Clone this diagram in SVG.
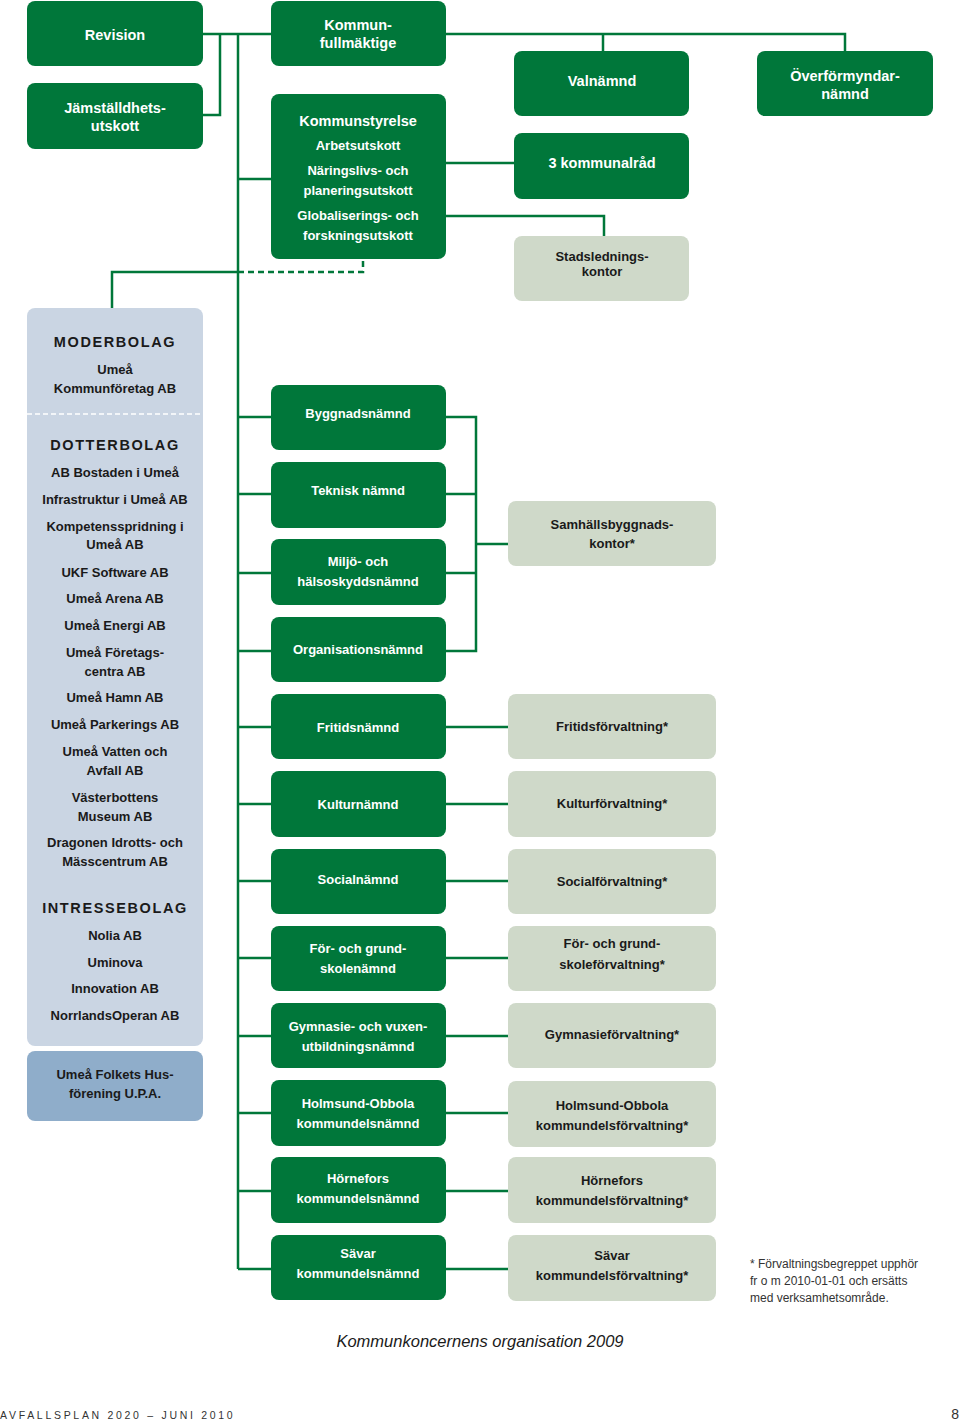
<svg xmlns="http://www.w3.org/2000/svg" width="960" height="1422" viewBox="0 0 960 1422">
<style>
.g{fill:#00773a}
.p{fill:#cfd9c9}
.b{fill:#cad5e3}
.bd{fill:#8fadca}
text{font-family:"Liberation Sans",Arial,sans-serif;font-weight:bold;text-anchor:middle}
.w{fill:#ffffff;font-size:13px}
.wt{fill:#ffffff;font-size:14.5px}
.k{fill:#1a1a1a;font-size:13px}
.h{fill:#1a1a1a;font-size:14.5px;letter-spacing:1.6px}
.ln{stroke:#00773a;stroke-width:2.5;fill:none}
.dash{stroke:#00773a;stroke-width:2.5;fill:none;stroke-dasharray:6 4}
</style>
<rect width="960" height="1422" fill="#ffffff"/>
<g id="connectors">
<path class="ln" d="M203 34H271M220 34V115H203M238 34V1269M238 179H271"/>
<path class="ln" d="M446 34H845V51M603 34V51M446 163H514M446 216H604V236"/>
<path class="ln" d="M112 308V272H238"/>
<path class="dash" d="M238 272H363V259"/>
<path class="ln" d="M238 417H271M238 494H271M238 573H271M238 651H271M238 727H271M238 804H271M238 881H271M238 958H271M238 1036H271M238 1113H271M238 1191H271M238 1269H271"/>
<path class="ln" d="M446 417H476V651H446M446 494H476M446 573H476M476 544H508"/>
<path class="ln" d="M446 727H508M446 804H508M446 881H508M446 958H508M446 1036H508M446 1113H508M446 1191H508M446 1269H508"/>
</g>
<g id="revision"><rect class="g" x="27" y="1" width="176" height="65" rx="8"/><text class="wt" x="115" y="40">Revision</text></g>
<g id="jamstalldhet"><rect class="g" x="27" y="83" width="176" height="66" rx="8"/><text class="wt" x="115" y="113">Jämställdhets-</text><text class="wt" x="115" y="131">utskott</text></g>
<g id="kommunfullmaktige"><rect class="g" x="271" y="1" width="175" height="65" rx="8"/><text class="wt" x="358" y="30">Kommun-</text><text class="wt" x="358" y="48">fullmäktige</text></g>
<g id="kommunstyrelse"><rect class="g" x="271" y="94" width="175" height="165" rx="8"/><text class="wt" x="358" y="126">Kommunstyrelse</text><text class="w" x="358" y="150">Arbetsutskott</text><text class="w" x="358" y="175">Näringslivs- och</text><text class="w" x="358" y="195">planeringsutskott</text><text class="w" x="358" y="220">Globaliserings- och</text><text class="w" x="358" y="240">forskningsutskott</text></g>
<g id="valnamnd"><rect class="g" x="514" y="51" width="175" height="65" rx="8"/><text class="wt" x="602" y="86">Valnämnd</text></g>
<g id="overformyndar"><rect class="g" x="757" y="51" width="176" height="65" rx="8"/><text class="wt" x="845" y="81">Överförmyndar-</text><text class="wt" x="845" y="99">nämnd</text></g>
<g id="kommunalrad"><rect class="g" x="514" y="133" width="175" height="66" rx="8"/><text class="wt" x="602" y="168">3 kommunalråd</text></g>
<g id="stadsledning"><rect class="p" x="514" y="236" width="175" height="65" rx="8"/><text class="k" x="602" y="261">Stadslednings-</text><text class="k" x="602" y="276">kontor</text></g>
<g id="bolag">
<rect class="b" x="27" y="308" width="176" height="738" rx="8"/>
<line x1="27" y1="414" x2="203" y2="414" stroke="#ffffff" stroke-width="1.5" stroke-dasharray="5 3"/>
<text class="h" x="115" y="347">MODERBOLAG</text>
<text class="k" x="115" y="374">Umeå</text>
<text class="k" x="115" y="393">Kommunföretag AB</text>
<text class="h" x="115" y="450">DOTTERBOLAG</text>
<text class="k" x="115" y="477">AB Bostaden i Umeå</text>
<text class="k" x="115" y="504">Infrastruktur i Umeå AB</text>
<text class="k" x="115" y="531">Kompetensspridning i</text>
<text class="k" x="115" y="549">Umeå AB</text>
<text class="k" x="115" y="577">UKF Software AB</text>
<text class="k" x="115" y="603">Umeå Arena AB</text>
<text class="k" x="115" y="630">Umeå Energi AB</text>
<text class="k" x="115" y="657">Umeå Företags-</text>
<text class="k" x="115" y="676">centra AB</text>
<text class="k" x="115" y="702">Umeå Hamn AB</text>
<text class="k" x="115" y="729">Umeå Parkerings AB</text>
<text class="k" x="115" y="756">Umeå Vatten och</text>
<text class="k" x="115" y="775">Avfall AB</text>
<text class="k" x="115" y="802">Västerbottens</text>
<text class="k" x="115" y="821">Museum AB</text>
<text class="k" x="115" y="847">Dragonen Idrotts- och</text>
<text class="k" x="115" y="866">Mässcentrum AB</text>
<text class="h" x="115" y="913">INTRESSEBOLAG</text>
<text class="k" x="115" y="940">Nolia AB</text>
<text class="k" x="115" y="967">Uminova</text>
<text class="k" x="115" y="993">Innovation AB</text>
<text class="k" x="115" y="1020">NorrlandsOperan AB</text>
</g>
<g id="folketshus"><rect class="bd" x="27" y="1051" width="176" height="70" rx="8"/><text class="k" x="115" y="1079">Umeå Folkets Hus-</text><text class="k" x="115" y="1098">förening U.P.A.</text></g>
<g id="byggnadsnamnd"><rect class="g" x="271" y="385" width="175" height="65" rx="8"/><text class="w" x="358" y="418">Byggnadsnämnd</text></g>
<g id="tekniskanamnd"><rect class="g" x="271" y="462" width="175" height="66" rx="8"/><text class="w" x="358" y="495">Teknisk nämnd</text></g>
<g id="miljonamnd"><rect class="g" x="271" y="539" width="175" height="66" rx="8"/><text class="w" x="358" y="566">Miljö- och</text><text class="w" x="358" y="586">hälsoskyddsnämnd</text></g>
<g id="organisationsnamnd"><rect class="g" x="271" y="617" width="175" height="65" rx="8"/><text class="w" x="358" y="654">Organisationsnämnd</text></g>
<g id="fritidsnamnd"><rect class="g" x="271" y="694" width="175" height="65" rx="8"/><text class="w" x="358" y="732">Fritidsnämnd</text></g>
<g id="kulturnamnd"><rect class="g" x="271" y="771" width="175" height="66" rx="8"/><text class="w" x="358" y="809">Kulturnämnd</text></g>
<g id="socialnamnd"><rect class="g" x="271" y="849" width="175" height="65" rx="8"/><text class="w" x="358" y="884">Socialnämnd</text></g>
<g id="grundskolenamnd"><rect class="g" x="271" y="926" width="175" height="65" rx="8"/><text class="w" x="358" y="953">För- och grund-</text><text class="w" x="358" y="973">skolenämnd</text></g>
<g id="gymnasienamnd"><rect class="g" x="271" y="1003" width="175" height="65" rx="8"/><text class="w" x="358" y="1031">Gymnasie- och vuxen-</text><text class="w" x="358" y="1051">utbildningsnämnd</text></g>
<g id="holmsundnamnd"><rect class="g" x="271" y="1080" width="175" height="66" rx="8"/><text class="w" x="358" y="1108">Holmsund-Obbola</text><text class="w" x="358" y="1128">kommundelsnämnd</text></g>
<g id="hornefornamnd"><rect class="g" x="271" y="1157" width="175" height="66" rx="8"/><text class="w" x="358" y="1183">Hörnefors</text><text class="w" x="358" y="1203">kommundelsnämnd</text></g>
<g id="savarnamnd"><rect class="g" x="271" y="1235" width="175" height="65" rx="8"/><text class="w" x="358" y="1258">Sävar</text><text class="w" x="358" y="1278">kommundelsnämnd</text></g>
<g id="samhallsbyggnad"><rect class="p" x="508" y="501" width="208" height="65" rx="8"/><text class="k" x="612" y="529">Samhällsbyggnads-</text><text class="k" x="612" y="548">kontor*</text></g>
<g id="fritidsforv"><rect class="p" x="508" y="694" width="208" height="65" rx="8"/><text class="k" x="612" y="731">Fritidsförvaltning*</text></g>
<g id="kulturforv"><rect class="p" x="508" y="771" width="208" height="66" rx="8"/><text class="k" x="612" y="808">Kulturförvaltning*</text></g>
<g id="socialforv"><rect class="p" x="508" y="849" width="208" height="65" rx="8"/><text class="k" x="612" y="886">Socialförvaltning*</text></g>
<g id="grundskoleforv"><rect class="p" x="508" y="926" width="208" height="65" rx="8"/><text class="k" x="612" y="948">För- och grund-</text><text class="k" x="612" y="969">skoleförvaltning*</text></g>
<g id="gymnasieforv"><rect class="p" x="508" y="1003" width="208" height="65" rx="8"/><text class="k" x="612" y="1039">Gymnasieförvaltning*</text></g>
<g id="holmsundforv"><rect class="p" x="508" y="1081" width="208" height="66" rx="8"/><text class="k" x="612" y="1110">Holmsund-Obbola</text><text class="k" x="612" y="1130">kommundelsförvaltning*</text></g>
<g id="horneforsforv"><rect class="p" x="508" y="1157" width="208" height="66" rx="8"/><text class="k" x="612" y="1185">Hörnefors</text><text class="k" x="612" y="1205">kommundelsförvaltning*</text></g>
<g id="savarforv"><rect class="p" x="508" y="1235" width="208" height="66" rx="8"/><text class="k" x="612" y="1260">Sävar</text><text class="k" x="612" y="1280">kommundelsförvaltning*</text></g>
<g id="footnote">
<text x="750" y="1268" style="font-weight:normal;font-size:12px;fill:#333333;text-anchor:start">* Förvaltningsbegreppet upphör</text>
<text x="750" y="1285" style="font-weight:normal;font-size:12px;fill:#333333;text-anchor:start">fr o m 2010-01-01 och ersätts</text>
<text x="750" y="1302" style="font-weight:normal;font-size:12px;fill:#333333;text-anchor:start">med verksamhetsområde.</text>
</g>
<text x="480" y="1347" style="font-weight:normal;font-style:italic;font-size:16.5px;fill:#1a1a1a">Kommunkoncernens organisation 2009</text>
<text x="0" y="1419" style="font-weight:normal;font-size:10.5px;letter-spacing:2.7px;fill:#333333;text-anchor:start">AVFALLSPLAN 2020 – JUNI 2010</text>
<text x="959" y="1419" style="font-weight:normal;font-size:14px;fill:#333333;text-anchor:end">8</text>
</svg>
